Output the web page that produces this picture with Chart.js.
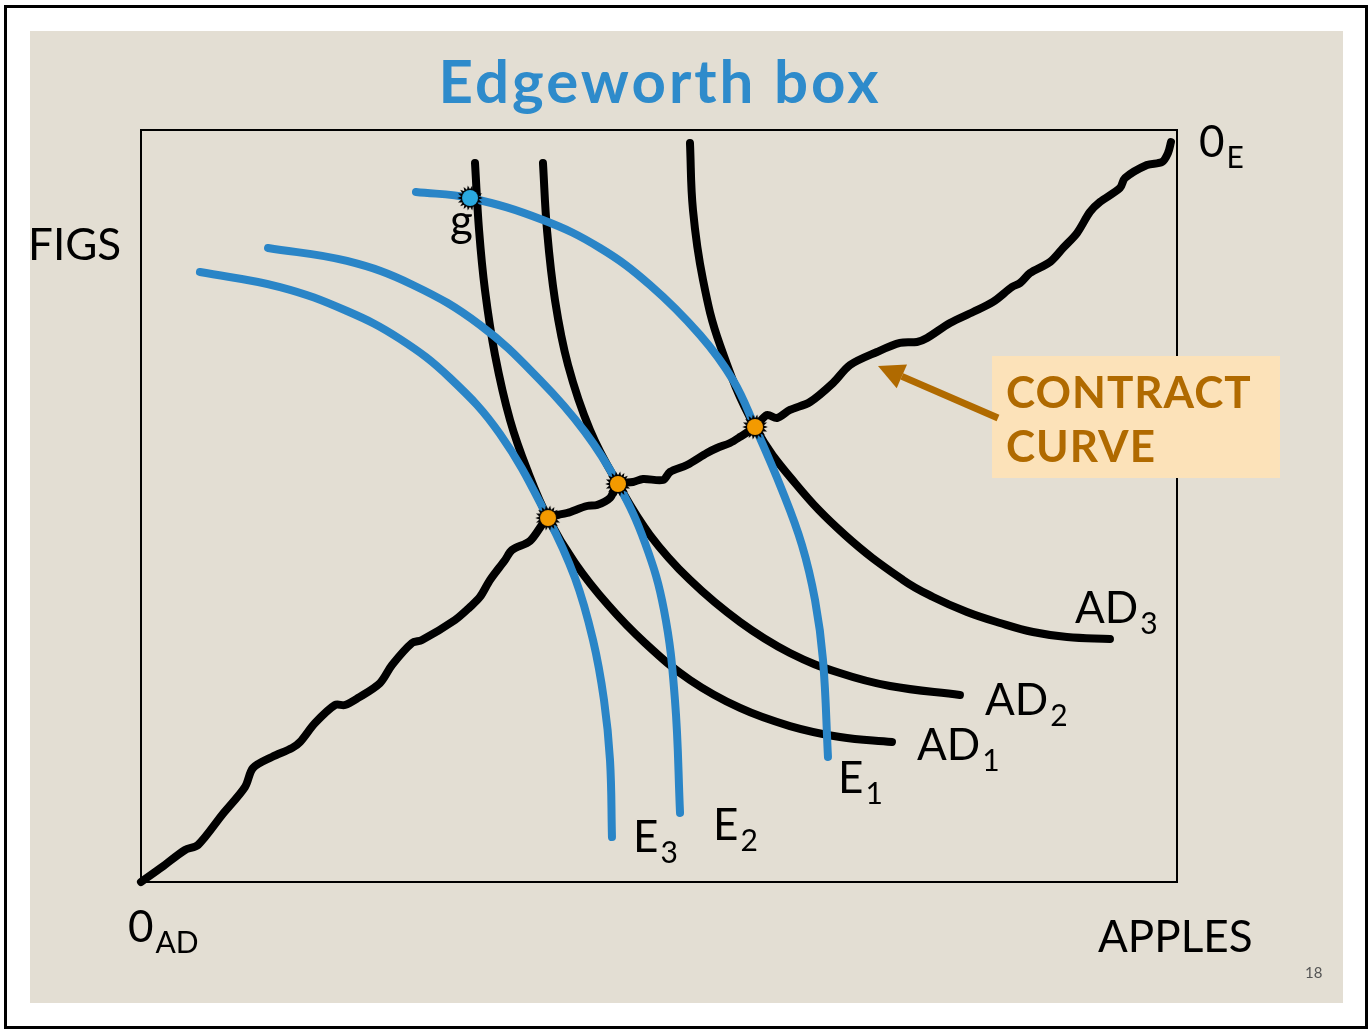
<!DOCTYPE html>
<html><head><meta charset="utf-8">
<script src="https://cdn.jsdelivr.net/npm/chart.js@4.4.0/dist/chart.umd.min.js"></script>
<style>html,body{margin:0;padding:0;background:#fff;overflow:hidden}</style>
</head><body>
<canvas id="c" width="1370" height="1030"></canvas>
<script>
// ---- data (box units: 0..100 apples, 0..100 figs) ----
const ccX=[0,2.03,4.25,5.50,7.82,10.04,10.81,12.64,14.58,15.35,16.80,18.73,19.69,20.95,23.07,24.23,26.16,27.12,30.31,31.76,32.72,33.69,35.14,35.81,37.55,39.29,41.12,43.05,44.02,45.27,46.04,47.49,48.46,50.39,51.06,52.70,54.63,55.60,56.85,57.82,59.27,60.42,61.39,62.64,64.58,66.80,68.44,71.04,73.26,74.90,75.87,78.09,80.31,82.24,84.07,84.85,85.81,87.74,89.00,90.35,91.60,92.57,94.50,94.98,97.10,98.55,99.13,99.42];
const ccY=[0,1.99,4.26,4.92,8.91,12.63,15.16,16.62,17.82,18.62,21.14,23.54,23.54,24.47,26.46,28.86,31.78,32.18,34.84,36.57,37.90,40.16,42.82,44.15,45.35,48.40,49.07,50.00,50.13,51.06,52.93,53.19,53.59,53.46,54.52,55.45,57.05,57.71,58.38,59.18,60.51,62.10,61.70,62.77,63.83,66.36,68.75,70.48,71.68,71.81,72.34,74.34,75.80,77.13,79.12,79.65,80.98,82.45,84.31,86.30,89.10,90.43,92.29,93.62,95.35,95.74,96.94,98.40];

const ad1X=[32.24,32.63,33.20,34.17,35.62,37.36,39.29,41.89,45.08,48.65,52.99,57.82,62.64,67.47,72.49];
const ad1Y=[95.61,86.70,78.72,70.08,61.44,54.52,48.40,42.42,36.84,31.78,26.86,23.14,20.74,19.28,18.62];
const ad2X=[38.80,39.19,39.96,41.22,43.34,46.04,49.13,52.99,57.82,62.64,67.47,72.30,79.05];
const ad2Y=[95.61,86.70,77.39,68.75,60.11,52.93,46.14,40.16,34.57,30.45,27.79,26.06,24.87];
const ad3X=[52.99,53.28,54.25,55.89,59.27,63.13,67.95,73.55,76.45,79.73,82.92,86.10,89.38,93.53];
const ad3Y=[98.27,89.36,80.05,71.41,60.51,53.06,46.14,40.16,37.90,35.90,34.44,33.24,32.58,32.31];

const e1X=[26.54,31.76,38.80,44.31,49.13,53.96,57.14,59.27,61.87,63.80,65.06,65.83,66.31];
const e1Y=[91.76,90.96,88.03,84.31,79.39,72.74,66.76,60.51,52.13,44.81,37.50,29.52,16.62];
const e2X=[12.26,19.88,26.25,32.72,38.51,42.86,46.04,48.65,50.48,51.54,52.03];
const e2Y=[84.31,82.58,79.39,74.07,66.76,59.84,52.93,45.08,36.17,24.20,9.18];
const e3X=[5.69,13.42,19.88,25.00,29.83,34.65,39.29,41.89,43.63,44.69,45.27,45.46];
const e3Y=[81.12,79.12,75.93,72.21,67.02,59.57,48.40,40.43,32.18,24.20,16.22,5.98];

const eqX=[39.29,46.04,59.27];
const eqY=[48.40,52.93,60.51];
const gX=[31.76];
const gY=[90.96];

const curveLabels=['AD','AD','AD','E','E','E','g'];
const curveSubs=['3','2','1','1','2','3',''];
const labelX=[90.15,81.47,74.90,67.28,55.21,47.49,29.83];
const labelY=[34.44,22.21,16.22,11.84,5.59,3.99,85.90];

const titleText='Edgeworth box';
const yAxisLabel='FIGS';
const xAxisLabel='APPLES';
const originA=['0','AD'];
const originB=['0','E'];
const calloutLines=['CONTRACT','CURVE'];
const pageNo='18';

// ---- helpers ----
const zip=(xs,ys)=>xs.map((x,i)=>({x:x,y:ys[i]}));
function burst(fill){
  const s=28,c=document.createElement('canvas');c.width=c.height=s;
  const g=c.getContext('2d');g.translate(s/2,s/2);
  g.beginPath();const n=18;
  for(let i=0;i<2*n;i++){const r=i%2?8.8:12.8;const a=i*Math.PI/n;g.lineTo(r*Math.cos(a),r*Math.sin(a));}
  g.closePath();g.fillStyle='#000';g.fill();
  g.beginPath();g.arc(0,0,8,0,2*Math.PI);g.fillStyle=fill;g.fill();
  return c;
}
const BLUE='#2a85c7', BLACK='#000000';
const lineDS=(xs,ys,color,order)=>({data:zip(xs,ys),showLine:true,borderColor:color,borderWidth:8,
  pointRadius:0,tension:0.4,borderCapStyle:'round',borderJoinStyle:'round',clip:false,order:order});

const decor={
  id:'decor',
  beforeDraw(chart){
    const ctx=chart.ctx;ctx.save();
    ctx.fillStyle='#fff';ctx.fillRect(0,0,1370,1030);
    ctx.strokeStyle='#000';ctx.lineWidth=3;ctx.strokeRect(5.5,6.5,1361,1021);
    ctx.fillStyle='#e3ded3';ctx.fillRect(30,31,1313,972);
    ctx.restore();
  },
  beforeDatasetsDraw(chart){
    const ctx=chart.ctx,a=chart.chartArea;ctx.save();
    ctx.strokeStyle='#000';ctx.lineWidth=2;
    ctx.strokeRect(a.left,a.top,a.right-a.left,a.bottom-a.top);
    ctx.restore();
  },
  afterDatasetsDraw(chart){
    const ctx=chart.ctx,xs=chart.scales.x,ys=chart.scales.y;ctx.save();
    const F='Lato, "Open Sans", sans-serif';
    // title
    ctx.fillStyle='#2e8bcb';ctx.font='bold 60px '+F;ctx.textAlign='center';ctx.textBaseline='alphabetic';
    ctx.letterSpacing='3px';
    ctx.fillText(titleText,660,103);
    ctx.letterSpacing='0px';
    ctx.textAlign='left';
    const sub=(main,s,x,y,fm,fs)=>{
      ctx.font=fm+'px '+F;ctx.fillText(main,x,y);
      const w=ctx.measureText(main).width;
      if(s){ctx.font=fs+'px '+F;ctx.fillText(s,x+w+2,y+11);}
    };
    ctx.fillStyle='#000';
    for(let i=0;i<curveLabels.length;i++){
      sub(curveLabels[i],curveSubs[i],xs.getPixelForValue(labelX[i]),ys.getPixelForValue(labelY[i]),44,30);
    }
    sub(yAxisLabel,'',28,260,44,30);
    sub(xAxisLabel,'',1098,952,44,30);
    sub(originA[0],originA[1],128,942,44,30);
    sub(originB[0],originB[1],1199,157,44,30);
    ctx.fillStyle='#555';ctx.font='15px '+F;ctx.fillText(pageNo,1305,978);
    // callout
    ctx.fillStyle='#fce2b9';ctx.fillRect(992,356,288,122);
    const AC='#b06a00';
    ctx.strokeStyle=AC;ctx.fillStyle=AC;ctx.lineWidth=7;ctx.lineCap='butt';
    const x0=998,y0=418,x1=878,y1=366;
    const ang=Math.atan2(y1-y0,x1-x0),hl=26,hw=13;
    const bx=x1-hl*Math.cos(ang),by=y1-hl*Math.sin(ang);
    ctx.beginPath();ctx.moveTo(x0,y0);ctx.lineTo(bx,by);ctx.stroke();
    ctx.beginPath();ctx.moveTo(x1,y1);
    ctx.lineTo(bx+hw*Math.sin(ang),by-hw*Math.cos(ang));
    ctx.lineTo(bx-hw*Math.sin(ang),by+hw*Math.cos(ang));ctx.closePath();ctx.fill();
    ctx.font='bold 44px '+F;ctx.fillStyle=AC;ctx.letterSpacing='1px';
    ctx.fillText(calloutLines[0],1006,408);
    ctx.fillText(calloutLines[1],1006,462);
    ctx.restore();
  }
};

new Chart(document.getElementById('c'),{
  type:'scatter',
  data:{datasets:[
    lineDS(ad1X,ad1Y,BLACK,4),
    lineDS(ad2X,ad2Y,BLACK,4),
    lineDS(ad3X,ad3Y,BLACK,4),
    lineDS(e1X,e1Y,BLUE,3),
    lineDS(e2X,e2Y,BLUE,3),
    lineDS(e3X,e3Y,BLUE,3),
    Object.assign(lineDS(ccX,ccY,BLACK,2),{tension:0.3}),
    {data:zip(eqX,eqY),pointStyle:burst('#f39a00'),pointRadius:13,showLine:false,clip:false,order:1},
    {data:zip(gX,gY),pointStyle:burst('#2aa9e0'),pointRadius:13,showLine:false,clip:false,order:1}
  ]},
  options:{
    responsive:false,animation:false,devicePixelRatio:1,
    layout:{padding:{left:141,top:130,right:193,bottom:148}},
    scales:{x:{type:'linear',min:0,max:100,display:false},y:{type:'linear',min:0,max:100,display:false}},
    plugins:{legend:{display:false},tooltip:{enabled:false},title:{display:false}},
    events:[]
  },
  plugins:[decor]
});
</script>
</body></html>
